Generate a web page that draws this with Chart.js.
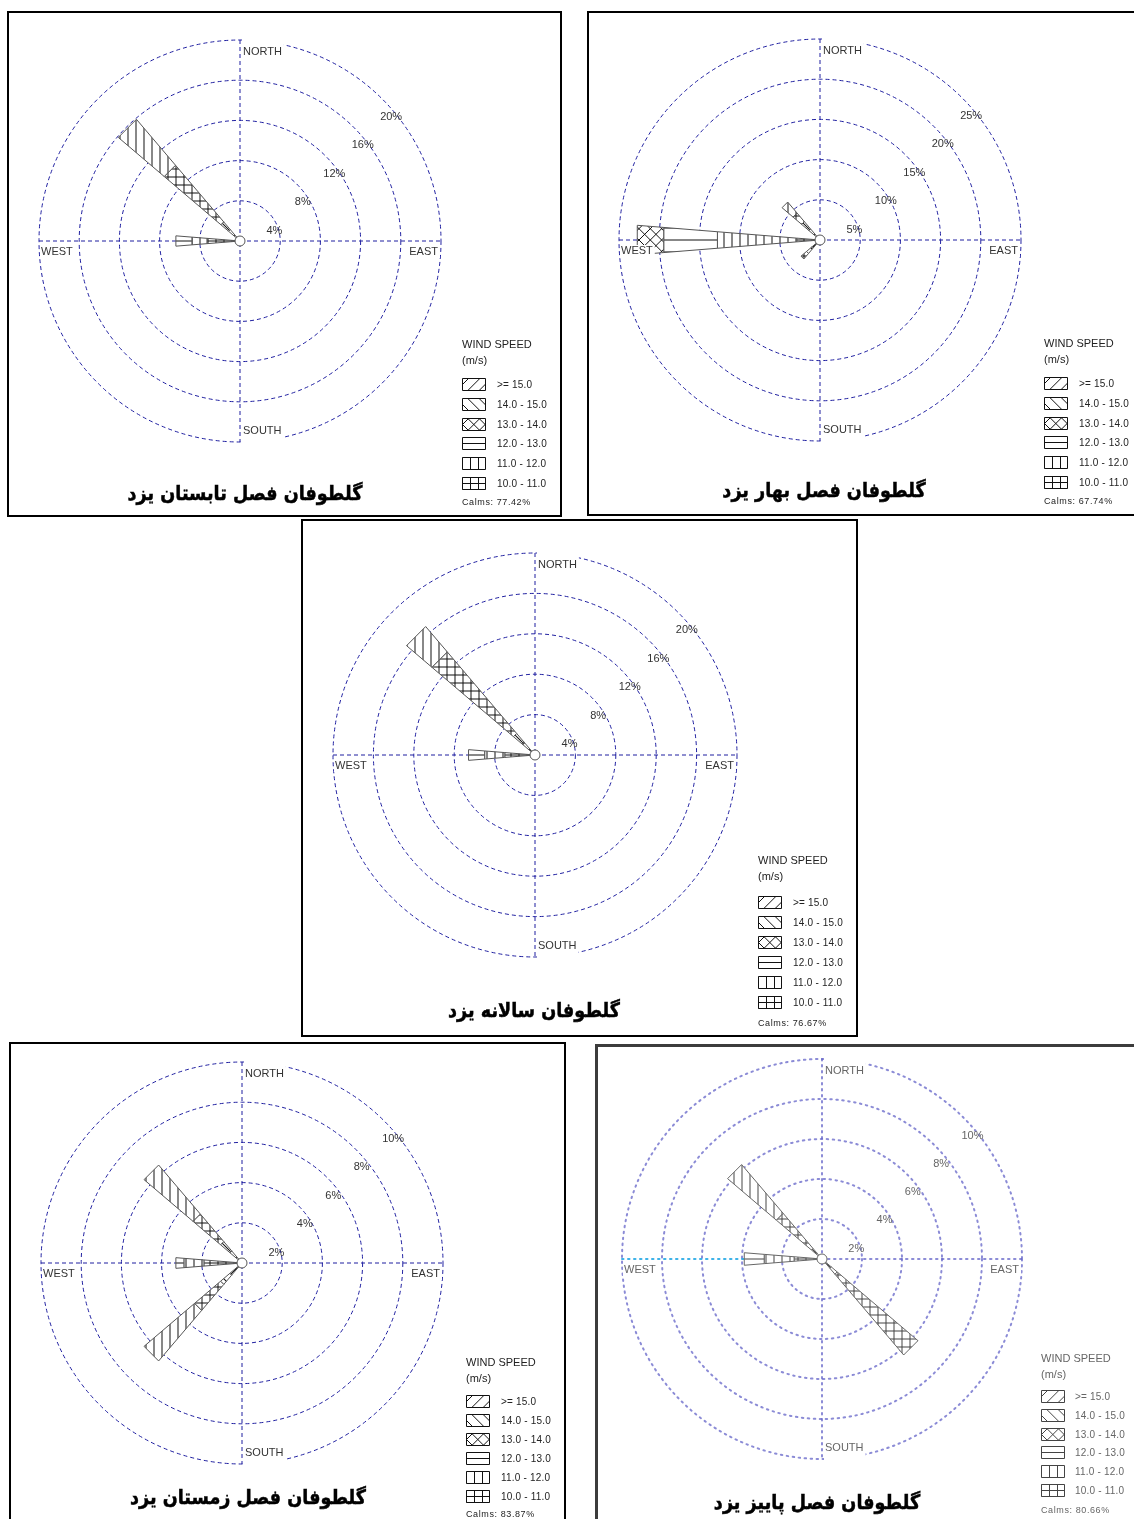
<!DOCTYPE html>
<html>
<head>
<meta charset="utf-8">
<script src="https://cdn.jsdelivr.net/npm/chart.js@4.4.0/dist/chart.umd.min.js"></script>
<style>
  body { margin: 0; background: #fff; width: 1134px; height: 1519px; position: relative; overflow: hidden;
         font-family: "Liberation Sans", Arial, sans-serif; }
  .panel { position: absolute; box-sizing: border-box; border: 2px solid #000; }
  canvas { position: absolute; left: 0; top: 0; }
  .t { position: absolute; white-space: nowrap; line-height: 1; transform: translateY(-50%); color: #222; }
  .title { position: absolute; white-space: nowrap; font-family: "DejaVu Sans", sans-serif; font-weight: bold;
           font-size: 20px; line-height: 1; transform: translate(-50%, -50%) scaleX(0.88); color: #000;
           -webkit-text-stroke: 0.5px #000; }
</style>
</head>
<body>
<script>
// speed classes, innermost band first
const bandLabels = ['10.0 - 11.0', '11.0 - 12.0', '12.0 - 13.0', '13.0 - 14.0', '14.0 - 15.0', '>= 15.0'];
const compassLabels = ['NORTH', 'SOUTH', 'EAST', 'WEST'];

// direction of each petal (deg from north), then % per speed band for each petal
const summerDirs = [270, 315];
const summerW  = [3.3, 1.5, 1.6, 0, 0, 0];
const summerNW = [0.6, 0.9, 1.0, 7.4, 6.0, 0];
const summerCalms = '77.42%';

const springDirs = [270, 315, 225];
const springW  = [2.9, 9.9, 6.7, 3.3, 0, 0];
const springNW = [0.6, 1.2, 1.2, 1.4, 1.8, 0];
const springSW = [0.5, 0.8, 0.9, 0.9, 0, 0];
const springCalms = '67.74%';

const annualDirs = [270, 315];
const annualW  = [3.0, 2.0, 1.6, 0, 0, 0];
const annualNW = [0.7, 1.0, 1.1, 10.6, 3.3, 0];
const annualCalms = '76.67%';

const winterDirs = [270, 315, 225];
const winterW  = [1.9, 1.0, 0.4, 0, 0, 0];
const winterNW = [0.3, 0.5, 0.6, 1.8, 3.2, 0];
const winterSW = [0.3, 0.5, 0.6, 1.7, 3.3, 0];
const winterCalms = '83.87%';

const autumnDirs = [270, 315, 135];
const autumnW  = [1.4, 1.5, 1.0, 0, 0, 0];
const autumnNW = [0.2, 0.2, 0.3, 2.3, 3.2, 0];
const autumnSE = [0.3, 0.3, 0.4, 5.3, 0, 0];
const autumnCalms = '80.66%';

const W = 1134, H = 1519;
// hatch patterns, same order as bandLabels (drawn in petal frame)
const bandPatterns = [[['v', 8], ['h', 6]], [['v', 8]], [['h', 12]], [['/', 8], ['\\', 8]], [['\\', 8]], [['/', 8]]];

function hatch(ctx, pat, x0, y0, x1, y1) {
  ctx.beginPath();
  for (const p of pat) {
    const s = p[1];
    if (p[0] === 'h') {
      for (let y = Math.ceil(y0 / s) * s; y <= y1; y += s) { ctx.moveTo(x0, y); ctx.lineTo(x1, y); }
    } else if (p[0] === 'v') {
      for (let x = Math.ceil(x0 / s) * s; x <= x1; x += s) { ctx.moveTo(x, y0); ctx.lineTo(x, y1); }
    } else {
      const sg = p[0] === '/' ? 1 : -1, d = s * Math.SQRT2;
      const cs = [x0 + sg * y0, x0 + sg * y1, x1 + sg * y0, x1 + sg * y1];
      const c0 = Math.min(...cs), c1 = Math.max(...cs);
      for (let c = Math.ceil(c0 / d) * d; c <= c1; c += d) { ctx.moveTo(c - sg * y0, y0); ctx.lineTo(c - sg * y1, y1); }
    }
  }
  ctx.stroke();
}

const rosePlugin = {
  id: 'rose',
  afterDraw(chart, args, o) {
    const ctx = chart.ctx, xs = chart.scales.x, ys = chart.scales.y;
    const rad = Math.PI / 180;
    const pt = (r, deg) => [xs.getPixelForValue(r * Math.sin(deg * rad)), ys.getPixelForValue(r * Math.cos(deg * rad))];
    const cx = xs.getPixelForValue(0), cy = ys.getPixelForValue(0);
    const R = xs.getPixelForValue(o.max) - cx;
    ctx.save();

    // rings + cross
    ctx.strokeStyle = o.gridColor; ctx.lineWidth = o.gridWidth; ctx.setLineDash(o.dash); ctx.lineCap = o.cap;
    for (let v = o.step; v <= o.max + 1e-6; v += o.step) {
      ctx.beginPath(); ctx.arc(cx, cy, xs.getPixelForValue(v) - cx, 0, Math.PI * 2); ctx.stroke();
    }
    ctx.beginPath();
    ctx.moveTo(cx, ys.getPixelForValue(o.max)); ctx.lineTo(cx, ys.getPixelForValue(-o.max));
    ctx.moveTo(cx, cy); ctx.lineTo(xs.getPixelForValue(o.max), cy);
    ctx.stroke();
    ctx.beginPath(); ctx.strokeStyle = o.westColor || o.gridColor;
    ctx.moveTo(xs.getPixelForValue(-o.max), cy); ctx.lineTo(cx, cy); ctx.stroke();
    ctx.setLineDash([]); ctx.lineCap = 'butt';

    // percent labels along the NE diagonal
    ctx.font = '11px "Liberation Sans", Arial, sans-serif';
    ctx.fillStyle = o.textColor; ctx.textBaseline = 'middle'; ctx.textAlign = 'left';
    for (let v = o.step; v <= o.max + 1e-6; v += o.step) {
      const [x, y] = pt(v, 45);
      ctx.fillText(v + '%', x - 2, y + 18);
    }

    // petals
    const ds = chart.data.datasets;
    const nDir = ds[0].data.length;
    for (let i = 0; i < nDir; i++) {
      const deg = ds[0].data[i].x;
      // hatch frame: west petal = legend frame, others mirrored so NW and SW look alike
      const rot = Math.abs(deg - 270) * rad;
      let cum = 0;
      for (let b = 0; b < ds.length; b++) {
        const val = ds[b].data[i].y;
        if (!val) continue;
        const r0 = cum, r1 = cum + val; cum = r1;
        const path = () => {
          const a = pt(r1, deg - o.halfWidth), bb = pt(r1, deg + o.halfWidth);
          const c = pt(r0, deg + o.halfWidth), d = pt(r0, deg - o.halfWidth);
          ctx.beginPath(); ctx.moveTo(...a); ctx.lineTo(...bb); ctx.lineTo(...c); ctx.lineTo(...d); ctx.closePath();
        };
        path(); ctx.fillStyle = '#fff'; ctx.fill();
        ctx.save(); ctx.clip();
        ctx.translate(cx, cy); ctx.rotate(rot);
        const rp = xs.getPixelForValue(r1) - cx;
        ctx.strokeStyle = o.hatchColor; ctx.lineWidth = 1;
        hatch(ctx, bandPatterns[b], -rp - 12, -rp - 12, rp + 12, rp + 12);
        ctx.restore();
        path(); ctx.strokeStyle = o.petalColor; ctx.lineWidth = 1; ctx.stroke();
      }
    }
    // centre circle
    ctx.beginPath(); ctx.arc(cx, cy, 5, 0, Math.PI * 2);
    ctx.fillStyle = '#fff'; ctx.fill(); ctx.strokeStyle = o.petalColor; ctx.stroke();

    // compass labels with white backing
    ctx.font = '11px "Liberation Sans", Arial, sans-serif';
    const pos = [
      [cx + 3, cy - R + 12, 'left', -1], [cx + 3, cy + R - 11, 'left', 1],
      [cx + R - 3, cy + 11, 'right', 0], [cx - R + 2, cy + 11, 'left', 0]
    ];
    compassLabels.forEach((lab, k) => {
      const [x, y, al, ext] = pos[k];
      const w = ctx.measureText(lab).width;
      const lx = al === 'left' ? x : x - w;
      let top = y - 6, bot = y + 6;
      if (ext < 0) top = y - 14;
      if (ext > 0) bot = y + 13;
      ctx.fillStyle = '#fff'; ctx.fillRect(lx - 1, top, w + 3, bot - top);
      ctx.fillStyle = o.textColor; ctx.textAlign = al; ctx.fillText(lab, x, y);
    });

    // legend swatches
    const lg = o.legend;
    for (let k = 0; k < 6; k++) {
      const b = 5 - k, y = Math.round(lg.rowY + k * lg.rowStep);
      const x = lg.x;
      ctx.beginPath(); ctx.rect(x + 0.5, y - 5.5, 23, 12);
      ctx.fillStyle = '#fff'; ctx.fill();
      ctx.save(); ctx.clip(); ctx.translate(x + 0.5, y + 0.5);
      ctx.strokeStyle = o.hatchColor; ctx.lineWidth = 1;
      hatch(ctx, bandPatterns[b], -2, -8, 26, 8);
      ctx.restore();
      ctx.beginPath(); ctx.rect(x + 0.5, y - 5.5, 23, 12); ctx.strokeStyle = o.hatchColor; ctx.stroke();
    }
    ctx.restore();
  }
};

function addText(txt, x, y, size, color, extra) {
  const d = document.createElement('div');
  d.className = 't'; d.textContent = txt;
  d.style.left = x + 'px'; d.style.top = y + 'px'; d.style.fontSize = size + 'px';
  if (color) d.style.color = color;
  if (extra) Object.assign(d.style, extra);
  document.body.appendChild(d);
}

function makeRose(cfg) {
  const p = document.createElement('div');
  p.className = 'panel';
  Object.assign(p.style, { left: cfg.box[0] + 'px', top: cfg.box[1] + 'px', width: cfg.box[2] + 'px', height: cfg.box[3] + 'px' });
  if (cfg.border) p.style.border = cfg.border;
  document.body.appendChild(p);

  const canvas = document.createElement('canvas');
  canvas.width = W; canvas.height = H;
  document.body.appendChild(canvas);

  const datasets = bandLabels.map((lab, b) => ({
    label: lab,
    data: cfg.dirs.map((deg, i) => ({ x: deg, y: cfg.values[i][b] })),
    pointRadius: 0, showLine: false
  }));
  new Chart(canvas, {
    type: 'scatter',
    data: { datasets },
    options: {
      responsive: false, animation: false, events: [],
      layout: { padding: { left: cfg.cx - cfg.R, right: W - cfg.cx - cfg.R, top: cfg.cy - cfg.R, bottom: H - cfg.cy - cfg.R } },
      scales: {
        x: { type: 'linear', min: -cfg.max, max: cfg.max, display: false },
        y: { type: 'linear', min: -cfg.max, max: cfg.max, display: false }
      },
      plugins: {
        legend: { display: false }, tooltip: { enabled: false },
        rose: {
          max: cfg.max, step: cfg.step, halfWidth: 4.6,
          gridColor: cfg.gridColor || '#1f1fa0', gridWidth: cfg.gridWidth || 1,
          dash: cfg.dash || [4, 3], cap: cfg.cap || 'butt', westColor: cfg.westColor,
          textColor: cfg.textColor || '#333', hatchColor: cfg.hatchColor || '#111', petalColor: cfg.petalColor || '#555',
          legend: { x: cfg.lg.x, rowY: cfg.lg.rowY, rowStep: cfg.lg.rowStep }
        }
      }
    },
    plugins: [rosePlugin]
  });

  // legend text + title
  const lg = cfg.lg, tc = cfg.textColor;
  addText('WIND SPEED', lg.x, lg.wsY, 11, tc);
  addText('(m/s)', lg.x, lg.wsY + 16, 11, tc);
  for (let k = 0; k < 6; k++) {
    addText(bandLabels[5 - k], lg.labelX, lg.rowY + k * lg.rowStep + 1, 10, tc, { letterSpacing: '0.2px' });
  }
  addText('Calms: ' + cfg.calms, lg.x, lg.calmsY, 9, tc, { letterSpacing: '0.6px' });

  const t = document.createElement('div');
  t.className = 'title'; t.dir = 'rtl'; t.textContent = cfg.title;
  t.style.left = cfg.titlePos[0] + 'px'; t.style.top = cfg.titlePos[1] + 'px';
  document.body.appendChild(t);
}

makeRose({
  box: [7, 11, 555, 506], cx: 240, cy: 241, R: 201, max: 20, step: 4,
  dirs: summerDirs, values: [summerW, summerNW], calms: summerCalms,
  lg: { x: 462, wsY: 344, rowY: 384, rowStep: 19.8, labelX: 497, calmsY: 502 },
  title: 'گلطوفان فصل تابستان یزد', titlePos: [245, 493]
});
makeRose({
  box: [587, 11, 560, 505], cx: 820, cy: 240, R: 201, max: 25, step: 5,
  dirs: springDirs, values: [springW, springNW, springSW], calms: springCalms,
  lg: { x: 1044, wsY: 343, rowY: 383, rowStep: 19.8, labelX: 1079, calmsY: 501 },
  title: 'گلطوفان فصل بهار یزد', titlePos: [824, 490]
});
makeRose({
  box: [301, 519, 557, 518], cx: 535, cy: 755, R: 202, max: 20, step: 4,
  dirs: annualDirs, values: [annualW, annualNW], calms: annualCalms,
  lg: { x: 758, wsY: 860, rowY: 902, rowStep: 20, labelX: 793, calmsY: 1023 },
  title: 'گلطوفان سالانه یزد', titlePos: [534, 1010]
});
makeRose({
  box: [9, 1042, 557, 500], cx: 242, cy: 1263, R: 201, max: 10, step: 2,
  dirs: winterDirs, values: [winterW, winterNW, winterSW], calms: winterCalms,
  lg: { x: 466, wsY: 1362, rowY: 1401, rowStep: 18.9, labelX: 501, calmsY: 1514 },
  title: 'گلطوفان فصل زمستان یزد', titlePos: [248, 1497]
});
makeRose({
  box: [595, 1044, 560, 500], cx: 822, cy: 1259, R: 200, max: 10, step: 2,
  dirs: autumnDirs, values: [autumnW, autumnNW, autumnSE], calms: autumnCalms,
  border: '3px solid #3c3c3c',
  gridColor: 'rgba(100,100,200,0.75)', gridWidth: 2, dash: [1.5, 4.5], cap: 'round', westColor: 'rgba(40,170,230,0.9)',
  textColor: '#666', hatchColor: '#444', petalColor: '#666',
  lg: { x: 1041, wsY: 1358, rowY: 1396, rowStep: 18.8, labelX: 1075, calmsY: 1510 },
  title: 'گلطوفان فصل پاییز یزد', titlePos: [817, 1502]
});
</script>
</body>
</html>
